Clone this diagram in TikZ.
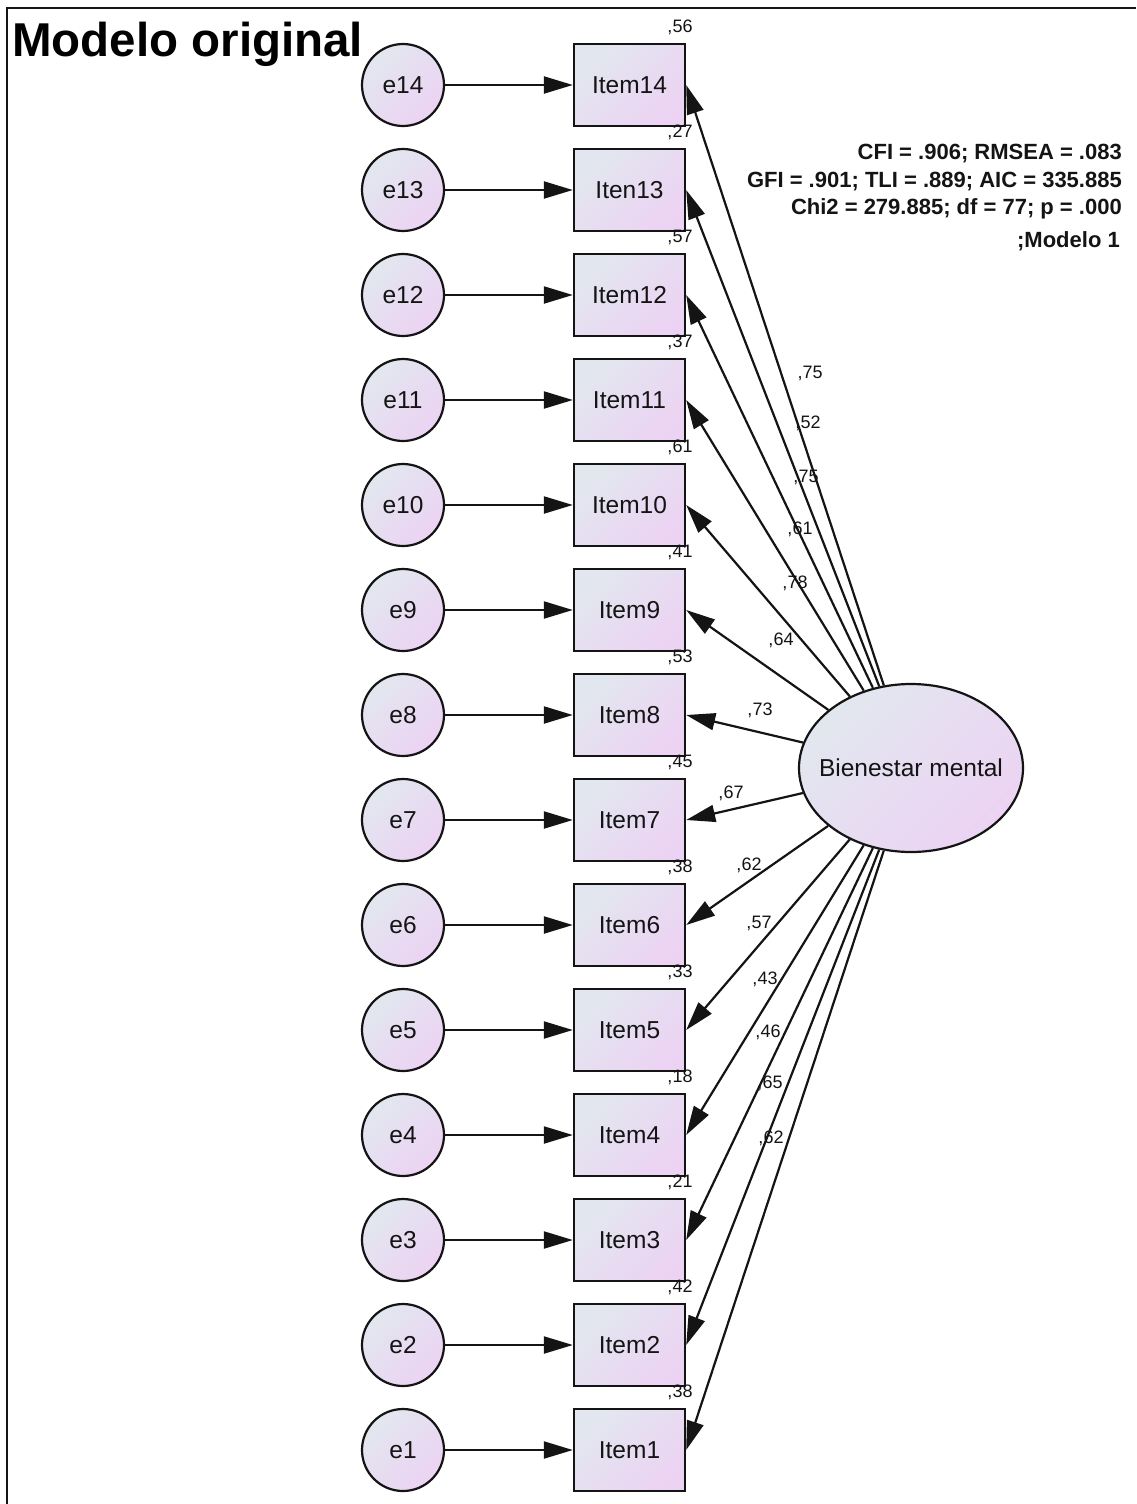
\documentclass[tikz,border=0pt]{standalone}
\usepackage{fontspec}
\setmainfont{Liberation Sans}
\usetikzlibrary{arrows.meta,shapes.geometric}
\definecolor{ca}{HTML}{E2E7EF}
\definecolor{cb}{HTML}{ECD3F3}
\definecolor{ink}{HTML}{141414}
\begin{document}
\begin{tikzpicture}[x=1pt,y=-1pt,
  obsbox/.style={draw=ink, line width=2.4pt, minimum width=111pt, minimum height=82pt, inner sep=0pt,
    top color=ca, bottom color=cb, shading angle=45, text=ink, font=\fontsize{24.5}{28}\selectfont},
  errnode/.style={circle, draw=ink, line width=2.2pt, minimum size=82pt, inner sep=0pt,
    top color=ca, bottom color=cb, shading angle=45, text=ink, font=\fontsize{24.5}{28}\selectfont},
  latnode/.style={ellipse, draw=ink, line width=2.2pt, minimum width=224pt, minimum height=168pt,
    inner xsep=-16pt, inner ysep=0pt,
    top color=ca, bottom color=cb, shading angle=45, text=ink, font=\fontsize{24.5}{28}\selectfont},
  arr/.style={draw=ink, line width=2.2pt, -{Triangle[length=29pt,width=17pt]}},
  est/.style={inner sep=0pt, text=ink, font=\fontsize{18}{20}\selectfont},
  fitline/.style={inner sep=0pt, anchor=east, text=ink, font=\bfseries\fontsize{22}{24}\selectfont}]

\useasboundingbox (0,0) rectangle (1136,1504);
\fill[white] (0,0) rectangle (1136,1504);
\draw[line width=2.6pt, draw=ink] (7,1504) -- (7,8) -- (1136,8);

\node[anchor=base west, inner sep=0pt, font=\bfseries\fontsize{47.5}{50}\selectfont] (title) at (12,57) {Modelo original};

\node[latnode] (lat) at (911,768) {Bienestar mental};

\foreach \n/\lab/\v in {14/Item14/56,13/Iten13/27,12/Item12/57,11/Item11/37,10/Item10/61,9/Item9/41,8/Item8/53,7/Item7/45,6/Item6/38,5/Item5/33,4/Item4/18,3/Item3/21,2/Item2/42,1/Item1/38}{
  \pgfmathsetmacro\yy{85+105*(14-\n)}
  \node[obsbox] (item\n) at (629.5,\yy) {\lab};
  \node[errnode] (e\n) at (403,\yy) {e\n};
  \node[est] (r\n) at (680,\yy-58) {,\v};
  \draw[arr] (e\n) -- (item\n);
  \draw[arr] (lat) -- (item\n.east);
}

\foreach \n/\xx/\yy/\v in {14/810/373/75,13/808/423/52,12/806/477/75,11/800/529/61,10/795/583/78,9/781/640/64,8/760/710/73,7/731/793/67,6/749/865/62,5/759/923/57,4/765/979/43,3/768/1032/46,2/770/1083/65,1/771/1138/62}{
  \node[est] (l\n) at (\xx,\yy) {,\v};
}

\node[fitline] (fit1) at (1122,154) {CFI = .906; RMSEA = .083};
\node[fitline] (fit2) at (1122,182) {GFI = .901;\ TLI = .889; AIC = 335.885};
\node[fitline] (fit3) at (1122,209) {Chi2 = 279.885; df = 77; p = .000};
\node[fitline] (fit4) at (1120,241) {;Modelo 1};
\end{tikzpicture}
\end{document}
